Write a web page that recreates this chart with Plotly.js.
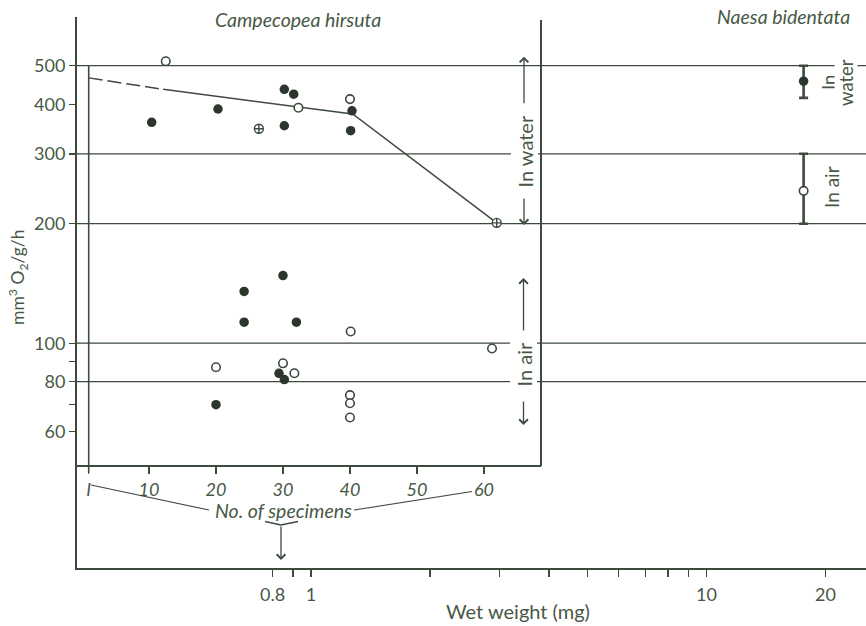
<!DOCTYPE html>
<html>
<head>
<meta charset="utf-8">
<script src="https://cdn.plot.ly/plotly-3.0.1.min.js"></script>
<style>html,body{margin:0;padding:0;background:#fff;}#chart{width:866px;height:626px;}</style>
</head>
<body>
<div id="chart"></div>
<script>
// ---------- data ----------
const specimenTicks = [1, 10, 20, 30, 40, 50, 60];
const weightTicks = [0.8, 0.9, 1, 2, 3, 4, 5, 6, 7, 8, 9, 10, 20];
const weightTickText = ['0.8', '', '1', '', '', '', '', '', '', '', '', '10', '20'];
const rateTicks = [60, 70, 80, 90, 100, 200, 300, 400, 500];
const rateTickText = ['60', '', '80', '', '100', '200', '300', '400', '500'];
const refLevels = [500, 300, 200, 100, 80];

// Campecopea hirsuta, in water (x = no. of specimens)
const waterFilledN = [10.4, 20.3, 30.2, 31.6, 30.2, 40.3, 40.1];
const waterFilledV = [360, 389, 436, 424, 353, 385, 343];
const waterOpenN = [12.5, 32.3, 40];
const waterOpenV = [513, 392, 412];
const crossN = [26.4, 61.9];
const crossV = [347, 201];
// Campecopea hirsuta, in air
const airFilledN = [30, 24.2, 24.2, 32, 29.4, 30.2, 20];
const airFilledV = [148, 135, 113, 113, 84, 81, 70];
const airOpenN = [40.1, 61.2, 20, 30, 31.7, 40, 40, 40];
const airOpenV = [107, 97, 87, 89, 84, 74, 70.6, 65];
// fitted line
const fitDashN = [1, 12.1];
const fitDashV = [466, 436];
const fitSolidN = [12.1, 40.4, 61.9];
const fitSolidV = [436, 378, 201];

// Naesa bidentata (x = wet weight, mg)
const naesaWeight = [17.6];
const naesaWaterMean = [457], naesaWaterLow = [415], naesaWaterHigh = [500];
const naesaAirMean = [242], naesaAirLow = [200], naesaAirHigh = [300];

// ---------- layout geometry ----------
const W = 866, H = 626, ML = 77, MR = 0, MT = 17, MB = 58;
const PW = W - ML - MR, PH = H - MT - MB;
const xp = px => (px - ML) / PW;          // pixel -> paper x
const yp = py => (H - MB - py) / PH;      // pixel -> paper y

const xRange = [-0.5917, 1.4033];
const yRange = [1.4338, 2.8217];
const x2Range = [-0.746, 68.51];

const LINE = '#3d4a3d', TEXT = '#485846', DOT = '#2c362c';
const FONT = 'Lato, "Open Sans", sans-serif';

// reference lines built from levels
const refX = [], refY = [];
refLevels.forEach(v => { refX.push(Math.pow(10, xRange[0]), Math.pow(10, xRange[1]), null); refY.push(v, v, null); });

const traces = [
  {x: refX, y: refY, xaxis: 'x', yaxis: 'y', mode: 'lines', line: {color: LINE, width: 1.3}, hoverinfo: 'skip', showlegend: false},
  {x: fitDashN, y: fitDashV, xaxis: 'x2', yaxis: 'y', mode: 'lines', line: {color: LINE, width: 1.5, dash: '14px,5px'}, showlegend: false},
  {x: fitSolidN, y: fitSolidV, xaxis: 'x2', yaxis: 'y', mode: 'lines', line: {color: LINE, width: 1.5}, showlegend: false},
  {x: waterFilledN, y: waterFilledV, xaxis: 'x2', yaxis: 'y', mode: 'markers', marker: {symbol: 'circle', size: 9.5, color: DOT}, showlegend: false},
  {x: airFilledN, y: airFilledV, xaxis: 'x2', yaxis: 'y', mode: 'markers', marker: {symbol: 'circle', size: 9.5, color: DOT}, showlegend: false},
  {x: waterOpenN, y: waterOpenV, xaxis: 'x2', yaxis: 'y', mode: 'markers', marker: {symbol: 'circle', size: 8.5, color: '#fff', line: {color: LINE, width: 1.6}}, showlegend: false},
  {x: airOpenN, y: airOpenV, xaxis: 'x2', yaxis: 'y', mode: 'markers', marker: {symbol: 'circle', size: 8.5, color: '#fff', line: {color: LINE, width: 1.6}}, showlegend: false},
  {x: crossN, y: crossV, xaxis: 'x2', yaxis: 'y', mode: 'markers', marker: {symbol: 'circle-cross', size: 9, color: '#fff', line: {color: LINE, width: 1.4}}, showlegend: false},
  {x: naesaWeight, y: naesaWaterMean, xaxis: 'x', yaxis: 'y', mode: 'markers',
   marker: {symbol: 'circle', size: 9.5, color: DOT},
   error_y: {type: 'data', symmetric: false,
     array: naesaWaterHigh.map((h, i) => h - naesaWaterMean[i]),
     arrayminus: naesaWaterLow.map((l, i) => naesaWaterMean[i] - l),
     color: LINE, thickness: 2.6, width: 4.5}, showlegend: false},
  {x: naesaWeight, y: naesaAirMean, xaxis: 'x', yaxis: 'y', mode: 'markers',
   marker: {symbol: 'circle', size: 8.5, color: '#fff', line: {color: LINE, width: 1.6}},
   error_y: {type: 'data', symmetric: false,
     array: naesaAirHigh.map((h, i) => h - naesaAirMean[i]),
     arrayminus: naesaAirLow.map((l, i) => naesaAirMean[i] - l),
     color: LINE, thickness: 2.6, width: 4.5}, showlegend: false}
];

const arrow = (x, y, ay) => ({xref: 'paper', yref: 'paper', x: xp(x), y: yp(y), text: '', showarrow: true,
  axref: 'pixel', ayref: 'pixel', ax: 0, ay: ay, arrowhead: 4, arrowsize: 1.3, arrowwidth: 1.3, arrowcolor: LINE});

const txt = (x, y, text, size, extra) => Object.assign({xref: 'paper', yref: 'paper', x: xp(x), y: yp(y), text: text,
  showarrow: false, font: {family: FONT, size: size, color: TEXT}, xanchor: 'center', yanchor: 'middle'}, extra || {});

const layout = {
  width: W, height: H,
  margin: {l: ML, r: MR, t: MT, b: MB, pad: 0},
  paper_bgcolor: '#ffffff', plot_bgcolor: 'rgba(0,0,0,0)',
  showlegend: false,
  font: {family: FONT, color: TEXT},
  xaxis: {type: 'log', range: xRange, domain: [0, 1], anchor: 'y',
    tickvals: weightTicks, ticktext: weightTickText, ticks: 'outside', ticklen: 7, tickwidth: 1.4, tickcolor: LINE,
    showline: true, linecolor: LINE, linewidth: 2.2, showgrid: false, zeroline: false, tickfont: {family: FONT, size: 18, color: TEXT},
    ticklabelstandoff: 2},
  xaxis2: {type: 'linear', range: x2Range, domain: [0, xp(541)], anchor: 'free', position: yp(466),
    tickvals: specimenTicks, ticktext: specimenTicks.map(v => '<i>' + (v === 1 ? 'I' : v) + '</i>'),
    ticks: 'outside', ticklen: 7, tickwidth: 1.4, tickcolor: LINE,
    showline: true, linecolor: LINE, linewidth: 2, showgrid: false, zeroline: false, tickfont: {family: FONT, size: 18, color: TEXT}},
  yaxis: {type: 'log', range: yRange, anchor: 'x',
    tickvals: rateTicks, ticktext: rateTickText, ticks: 'outside', ticklen: 6, tickwidth: 1.4, tickcolor: LINE,
    showline: true, linecolor: LINE, linewidth: 2, showgrid: false, zeroline: false, tickfont: {family: FONT, size: 18, color: TEXT}},
  shapes: [
    // right frame of Campecopea panel
    {type: 'line', xref: 'paper', yref: 'paper', x0: xp(541), x1: xp(541), y0: yp(466), y1: yp(20), line: {color: LINE, width: 2}},
    // inner left line at specimen 1
    {type: 'line', xref: 'x2', yref: 'paper', x0: 1, x1: 1, y0: yp(473), y1: yp(65.7), line: {color: LINE, width: 1.6}},
    // connectors to "No. of specimens"
    {type: 'line', xref: 'paper', yref: 'paper', x0: xp(91), y0: yp(485), x1: xp(209), y1: yp(510), line: {color: LINE, width: 1.2}},
    {type: 'line', xref: 'paper', yref: 'paper', x0: xp(354), y0: yp(510), x1: xp(472), y1: yp(491.5), line: {color: LINE, width: 1.2}},
    // bracket under "specimens"
    {type: 'path', xref: 'paper', yref: 'paper',
     path: 'M' + xp(265) + ',' + yp(521.5) + ' L' + xp(281) + ',' + yp(525) + ' L' + xp(298) + ',' + yp(521.5),
     line: {color: LINE, width: 1.3}}
  ],
  annotations: [
    txt(297.5, 19, '<i>Campecopea hirsuta</i>', 19.5),
    txt(783.5, 16, '<i>Naesa bidentata</i>', 19.5),
    txt(18, 277, 'mm<sup>3</sup> O<sub>2</sub>/g/h', 17.5, {textangle: -90}),
    txt(517.5, 611, 'Wet weight (mg)', 20),
    txt(283, 510, '<i>No. of specimens</i>', 19.5),
    txt(524, 151.5, 'In water', 20, {textangle: -90, bgcolor: '#ffffff', borderpad: 1}),
    txt(523.5, 365, 'In air', 20, {textangle: -90, bgcolor: '#ffffff', borderpad: 1}),
    txt(828.5, 82.5, 'In', 18.5, {textangle: -90, bgcolor: '#ffffff', borderpad: 0}),
    txt(845.5, 82.5, 'water', 18.5, {textangle: -90, bgcolor: '#ffffff', borderpad: 0}),
    txt(832, 187, 'In air', 19, {textangle: -90, bgcolor: '#ffffff', borderpad: 0}),
    arrow(524, 56.7, 48),
    arrow(524, 225, -28),
    arrow(523.5, 278, 54),
    arrow(523.5, 425, -25),
    arrow(281, 560, -35)
  ]
};

Plotly.newPlot('chart', traces, layout, {staticPlot: true, displayModeBar: false});
</script>
</body>
</html>
